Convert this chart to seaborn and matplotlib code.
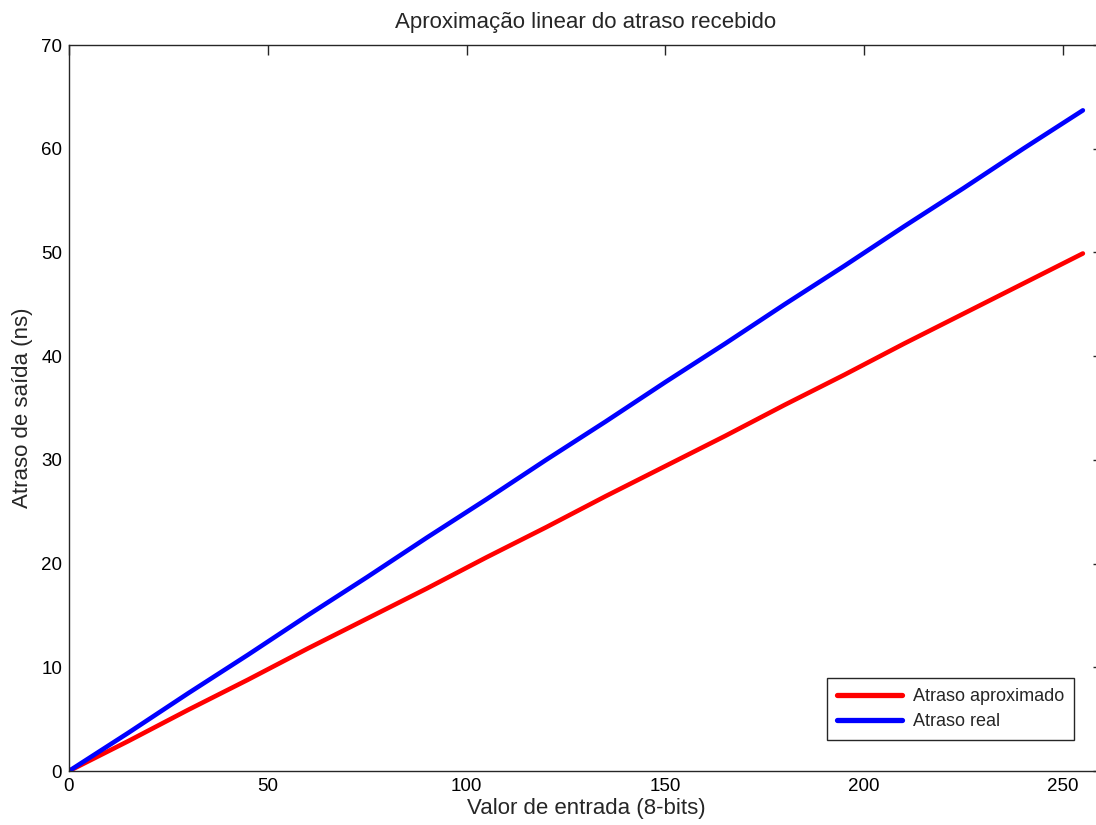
import numpy as np
import pandas as pd
import matplotlib
matplotlib.use("Agg")
import matplotlib.pyplot as plt
import seaborn as sns

# valores
entrada = [0, 15, 30, 45, 60, 75, 90, 105, 120, 135, 150, 165, 180, 195, 210, 225, 240, 255]
atraso_aprox = [0.0, 2.9, 5.9, 8.8, 11.8, 14.7, 17.6, 20.6, 23.5, 26.5, 29.4, 32.3, 35.3, 38.2, 41.2, 44.1, 47.0, 49.9]
atraso_real = [0.0, 3.7, 7.5, 11.2, 15.0, 18.7, 22.5, 26.2, 30.0, 33.7, 37.5, 41.2, 45.0, 48.7, 52.5, 56.2, 60.0, 63.7]

df = pd.DataFrame({
    "entrada": entrada * 2,
    "atraso": atraso_aprox + atraso_real,
    "serie": ["Atraso aproximado"] * len(entrada) + ["Atraso real"] * len(entrada),
})

sns.set_style("white")
plt.rcParams["font.family"] = ["Liberation Sans", "DejaVu Sans"]

fig = plt.figure(figsize=(10.96, 8.25), dpi=100)
W, H = 1096, 825
x0, x1 = 69, 69 + 260 * (994 / 250)
y0, y1 = 771, 45
ax = fig.add_axes([x0 / W, 1 - y0 / H, (x1 - x0) / W, (y0 - y1) / H])

sns.lineplot(data=df, x="entrada", y="atraso", hue="serie",
             palette={"Atraso aproximado": "#ff0000", "Atraso real": "#0000ff"},
             linewidth=3.3, ax=ax)

ax.set_xlim(0, 260)
ax.set_ylim(0, 70)
ax.set_xticks([0, 50, 100, 150, 200, 250])
ax.set_yticks(range(0, 71, 10))
ax.tick_params(direction="in", length=7, width=1, labelsize=13.5, top=True, right=True,
               colors="#262626", labelcolor="black", pad=5)
for s in ax.spines.values():
    s.set_color("#262626")
    s.set_linewidth(1)

ax.set_xlabel("Valor de entrada (8-bits)", fontsize=16, labelpad=2)
ax.set_ylabel("Atraso de saída (ns)", fontsize=16, labelpad=6)
ax.set_title("Aproximação linear do atraso recebido", fontsize=16, pad=12)

leg = ax.legend(loc="lower right", bbox_to_anchor=(1074 / W, 1 - 740 / H),
                bbox_transform=fig.transFigure, borderaxespad=0, fontsize=13,
                fancybox=False, framealpha=1, edgecolor="#262626",
                handlelength=3.6, handletextpad=0.6,
                borderpad=0.55, labelspacing=0.45)
leg.set_title(None)
leg.get_frame().set_linewidth(1)
for l in leg.get_lines():
    l.set_linewidth(3.8)

fig.savefig("out.png", dpi=100)
